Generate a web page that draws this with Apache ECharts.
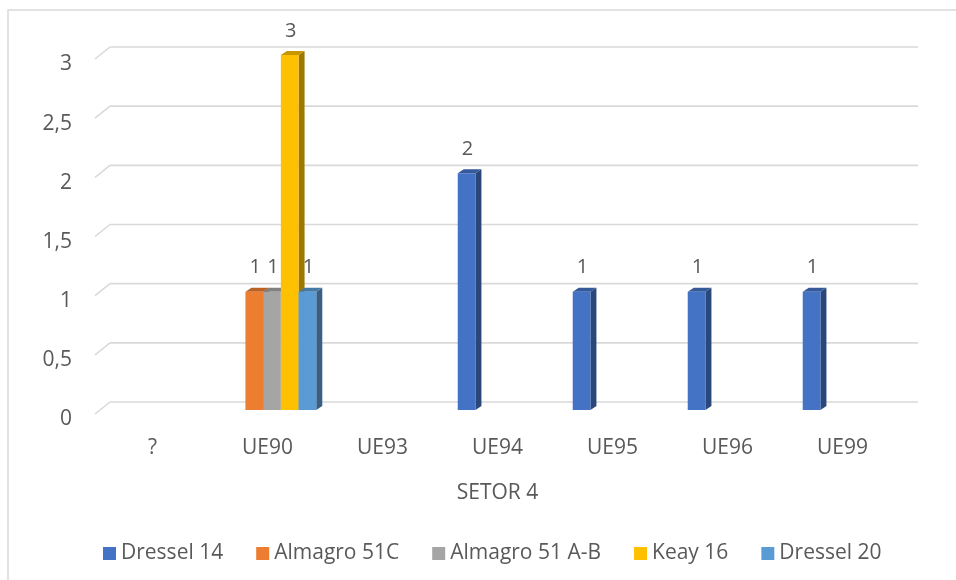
<!DOCTYPE html>
<html>
<head>
<meta charset="utf-8">
<title>SETOR 4</title>
<script src="https://cdn.jsdelivr.net/npm/echarts@6/dist/echarts.min.js"></script>
<style>
  html, body { margin: 0; padding: 0; background: #ffffff; }
  #chart { width: 956px; height: 580px; }
</style>
</head>
<body>
<div id="chart"></div>
<script>
// Categories along the x axis and counts per amphora type
const categories = ['?', 'UE90', 'UE93', 'UE94', 'UE95', 'UE96', 'UE99'];
const dressel14   = [null, null, null, 2, 1, 1, 1];
const almagro51C  = [null, 1, null, null, null, null, null];
const almagro51AB = [null, 1, null, null, null, null, null];
const keay16      = [null, 3, null, null, null, null, null];
const dressel20   = [null, 1, null, null, null, null, null];
const seriesNames = ['Dressel 14', 'Almagro 51C', 'Almagro 51 A-B', 'Keay 16', 'Dressel 20'];
const yTicks = [0, 0.5, 1, 1.5, 2, 2.5, 3];

const seriesValues = [dressel14, almagro51C, almagro51AB, keay16, dressel20];
const seriesColors = ['#4472C4', '#ED7D31', '#A5A5A5', '#FFC000', '#5B9BD5'];
const FONT = '"Open Sans", sans-serif';
const TEXT = '#595959';
const GRID = '#d9d9d9';

function shade(hex, f) {
  const n = parseInt(hex.slice(1), 16);
  const r = Math.round(((n >> 16) & 255) * f);
  const g = Math.round(((n >> 8) & 255) * f);
  const b = Math.round((n & 255) * f);
  return 'rgb(' + r + ',' + g + ',' + b + ')';
}

// Extruded column: front face, right side face and top face
function columnRenderer(slot, color) {
  const dx = 6, dy = -4;
  return function (params, api) {
    const ci = api.value(0);
    const v = api.value(1);
    const base = api.coord([ci, 0]);
    const top = api.coord([ci, v]);
    const band = api.size([1, 0])[0];
    const w = band * 0.154;
    const x0 = base[0] - 2.5 * w + 4.5 + slot * w;
    const x1 = x0 + w;
    const yt = top[1], yb = base[1];
    return {
      type: 'group',
      children: [
        { type: 'polygon', shape: { points: [[x1, yt], [x1 + dx, yt + dy], [x1 + dx, yb + dy], [x1, yb]] },
          style: { fill: shade(color, 0.62) } },
        { type: 'polygon', shape: { points: [[x0, yt], [x0 + dx, yt + dy], [x1 + dx, yt + dy], [x1, yt]] },
          style: { fill: shade(color, 0.78) } },
        { type: 'rect', shape: { x: x0, y: yt, width: w, height: yb - yt },
          style: { fill: color } },
        { type: 'text', z2: 10,
          style: { x: x0 + w / 2 + 1, y: yt - 24, text: String(v), fill: TEXT,
                   font: '20px ' + FONT, align: 'center', verticalAlign: 'middle' } }
      ]
    };
  };
}

// Back-wall gridlines with the slanted side-wall segment
function gridRenderer(params, api) {
  const cs = params.coordSys;
  const y = api.coord([0, api.value(1)])[1];
  const xl = cs.x;
  const xr = cs.x + cs.width + 18;
  return {
    type: 'group',
    children: [
      { type: 'line', shape: { x1: xl, y1: y + 4, x2: xl + 15, y2: y - 8 },
        style: { stroke: GRID, lineWidth: 1.6 } },
      { type: 'line', shape: { x1: xl + 15, y1: y - 8, x2: xr, y2: y - 8 },
        style: { stroke: GRID, lineWidth: 1.6 } }
    ]
  };
}

const series = [{
  type: 'custom',
  name: '__grid',
  z: 1,
  silent: true,
  renderItem: gridRenderer,
  encode: { x: 0, y: 1 },
  data: yTicks.map(v => [0, v])
}];

seriesNames.forEach((name, s) => {
  const data = [];
  seriesValues[s].forEach((v, i) => { if (v != null) data.push([i, v]); });
  series.push({
    type: 'custom',
    name: name,
    z: 2,
    itemStyle: { color: seriesColors[s] },
    renderItem: columnRenderer(s, seriesColors[s]),
    encode: { x: 0, y: 1 },
    data: data
  });
});

const chart = echarts.init(document.getElementById('chart'), null, { renderer: 'canvas' });
chart.setOption({
  backgroundColor: '#ffffff',
  animation: false,
  graphic: [{
    type: 'rect', silent: true,
    shape: { x: 8, y: 10, width: 1200, height: 1200 },
    style: { fill: 'none', stroke: GRID, lineWidth: 1.5 }
  }],
  grid: { left: 95, top: 55, width: 805, height: 355 },
  xAxis: {
    type: 'category',
    data: categories,
    boundaryGap: true,
    axisLine: { show: false },
    axisTick: { show: false },
    splitLine: { show: false },
    axisLabel: { color: TEXT, fontFamily: FONT, fontSize: 21, margin: 28, lineHeight: 21 },
    name: 'SETOR 4',
    nameLocation: 'middle',
    nameGap: 72,
    nameTextStyle: { color: TEXT, fontFamily: FONT, fontSize: 21, fontWeight: 'normal', lineHeight: 22 }
  },
  yAxis: {
    type: 'value',
    min: 0, max: 3, interval: 0.5,
    axisLine: { show: false },
    axisTick: { show: false },
    splitLine: { show: false },
    axisLabel: {
      color: TEXT, fontFamily: FONT, fontSize: 21, margin: 23,
      verticalAlign: 'top', lineHeight: 19,
      formatter: v => String(v).replace('.', ',')
    }
  },
  legend: {
    data: seriesNames,
    left: 98, top: 538,
    icon: 'rect', itemWidth: 13, itemHeight: 13, itemGap: 33,
    textStyle: { color: TEXT, fontFamily: FONT, fontSize: 21 }
  },
  series: series
});
</script>
</body>
</html>
